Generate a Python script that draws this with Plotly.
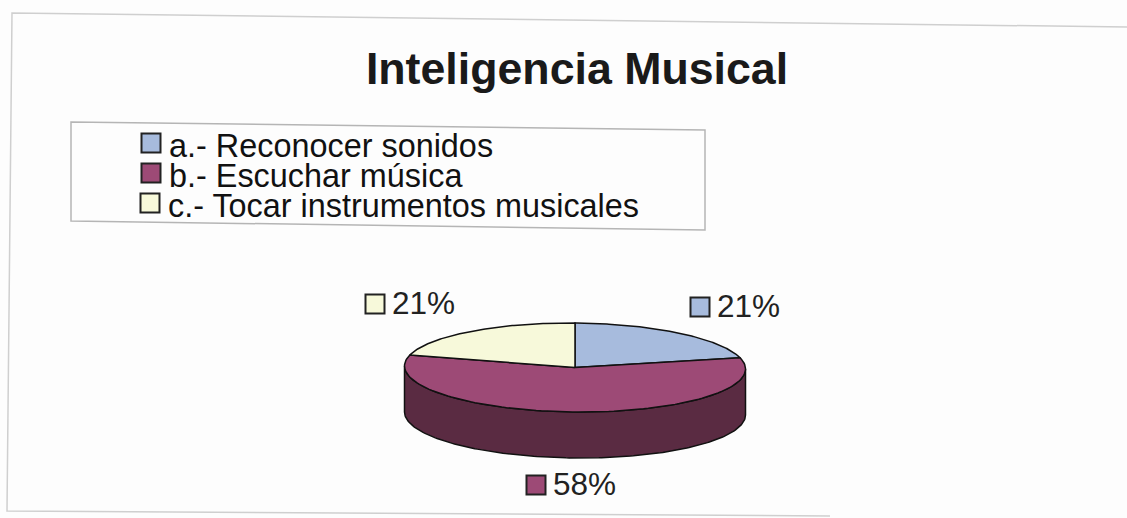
import numpy as np
import plotly.graph_objects as go

TITLE = "Inteligencia Musical"
categories = ["a.- Reconocer sonidos", "b.- Escuchar música", "c.- Tocar instrumentos musicales"]
values = [21, 58, 21]
slice_labels = ["21%", "58%", "21%"]
colors = ["#a7bbdd", "#9d4a76", "#f7f9da"]
side_color = "#5a2b42"
FONT = "Liberation Sans"

W, H = 1127, 518
CX, CY, RX, RY, DEPTH, SKEW = 575, 367.5, 170.5, 44.5, 46, 0.0085


def ellipse(a_deg, dy=0.0):
    a = np.radians(a_deg)
    x = CX + RX * np.sin(a)
    y = CY - RY * np.cos(a) + dy
    return x, y + SKEW * (x - CX)


fig = go.Figure()

# side wall: the part of the rim facing the viewer
front = np.linspace(90, 270, 181)
tx, ty = ellipse(front)
bx, by = ellipse(front[::-1], DEPTH)
fig.add_trace(go.Scatter(x=np.r_[tx, bx, tx[0]], y=np.r_[ty, by, ty[0]], mode="lines", fill="toself",
                         fillcolor=side_color, line=dict(color="#111111", width=1.5), hoverinfo="skip"))

# top face slices, clockwise from 12 o'clock
cum = np.cumsum([0] + values) / sum(values) * 360
for i, cat in enumerate(categories):
    ang = np.linspace(cum[i], cum[i + 1], 120)
    ex, ey = ellipse(ang)
    fig.add_trace(go.Scatter(x=np.r_[CX, ex, CX], y=np.r_[CY, ey, CY], mode="lines", fill="toself",
                             fillcolor=colors[i], line=dict(color="#111111", width=1.5),
                             name=cat, hoverinfo="name"))

# legend keys and slice label keys
leg_x, leg_y = [151, 151, 150], [143, 173, 203]
lab_x, lab_y = [700, 536, 375], [307, 485, 304]
fig.add_trace(go.Scatter(x=leg_x + lab_x, y=leg_y + lab_y, mode="markers", hoverinfo="skip",
                         marker=dict(symbol="square", size=19, color=colors + colors,
                                     line=dict(color="#222222", width=2))))

annotations = []
for i, cat in enumerate(categories):
    annotations.append(dict(x=leg_x[i] + 16, y=leg_y[i] + 3, text=cat, showarrow=False, xanchor="left",
                            yanchor="middle", font=dict(family=FONT, size=32.4, color="#111111")))
    annotations.append(dict(x=lab_x[i] + 15, y=lab_y[i] - 1, text=slice_labels[i], showarrow=False,
                            xanchor="left", yanchor="middle", font=dict(family=FONT, size=31.5, color="#222222")))

shapes = [
    dict(type="path", path="M1127,27 L12,13 L7,511 L830,516", line=dict(color="#cfcfcf", width=1.5)),
    dict(type="path", path="M71,122 L705,130 L705,230 L71,221 Z", line=dict(color="#b5b5b5", width=1.5)),
]

fig.update_layout(
    width=W, height=H, autosize=False,
    margin=dict(l=0, r=0, t=0, b=0),
    paper_bgcolor="#fdfdfd", plot_bgcolor="#fdfdfd",
    showlegend=False,
    title=dict(text=f"<b>{TITLE}</b>", x=577 / W, y=1 - 68.5 / H, xanchor="center", yanchor="middle",
               font=dict(family=FONT, size=44.7, color="#1a1a1a")),
    xaxis=dict(range=[0, W], visible=False, fixedrange=True),
    yaxis=dict(range=[H, 0], visible=False, fixedrange=True),
    annotations=annotations, shapes=shapes,
)
fig.write_html("out.html", config={"displayModeBar": False},
               post_script="document.body.style.margin='0';document.body.style.overflow='hidden';")
